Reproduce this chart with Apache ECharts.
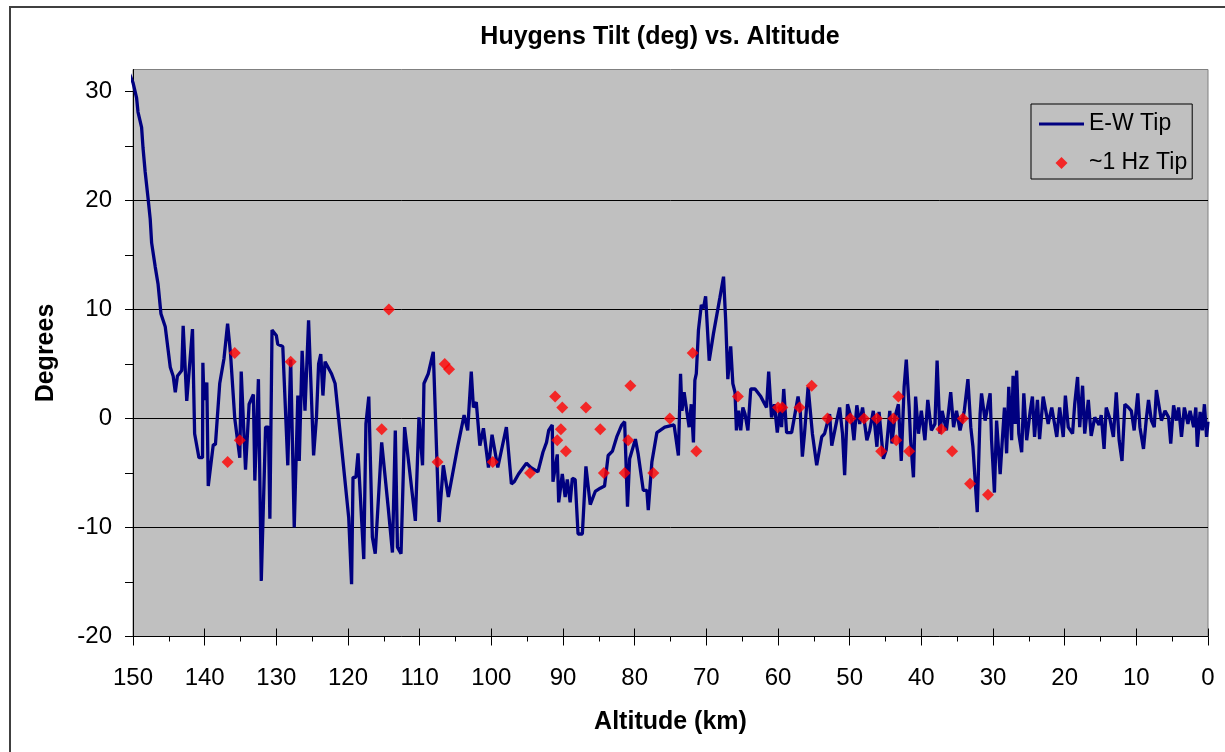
<!DOCTYPE html>
<html>
<head>
<meta charset="utf-8">
<script src="https://cdn.jsdelivr.net/npm/echarts@6/dist/echarts.min.js"></script>
<style>
html,body{margin:0;padding:0;background:#fff;}
#c{width:1225px;height:752px;}
</style>
</head>
<body>
<div id="c"></div>
<script>
// E-W Tip: altitude (km) and tilt (deg)
const ewAlt = [150.5,150.0,149.5,149.3,148.8,148.6,148.3,147.9,147.6,147.4,146.9,146.5,146.1,145.5,144.8,144.4,144.1,143.8,143.2,143.0,142.5,141.7,141.4,140.8,140.3,140.25,140.1,139.7,139.5,138.8,138.5,137.9,137.3,136.8,136.4,135.8,135.1,134.9,134.3,133.8,133.2,133.0,132.5,132.1,131.5,131.1,130.9,130.6,130.0,129.8,129.1,128.4,128.0,127.5,127.0,126.8,126.4,126.0,125.5,124.8,124.4,124.1,123.8,123.5,123.2,122.3,121.8,120.9,119.9,119.5,119.3,118.9,118.6,117.8,117.5,117.1,116.6,116.2,115.3,114.4,113.8,113.4,113.1,112.6,112.1,110.6,110.1,109.6,109.4,108.8,108.1,107.6,107.3,106.7,106.0,104.7,103.8,103.3,102.8,102.5,102.1,101.6,101.1,100.4,99.9,99.1,97.9,97.2,96.8,96.2,95.1,94.5,93.5,92.8,92.3,92.0,91.5,91.4,90.8,90.6,90.1,89.7,89.4,89.0,88.7,88.3,87.9,87.3,86.8,86.2,85.5,84.8,84.2,83.7,83.1,82.5,81.8,81.4,81.0,80.7,79.9,79.5,79.3,78.8,78.3,78.1,77.6,76.9,75.8,74.5,73.9,73.6,73.4,73.1,72.8,72.4,72.1,71.8,71.6,71.4,71.1,70.7,70.4,70.1,69.6,69.0,68.1,67.6,67.3,67.0,66.6,66.3,66.0,65.8,65.5,65.2,64.9,64.6,64.2,63.8,63.2,62.4,61.6,61.3,60.9,60.5,60.1,59.7,59.5,59.2,58.8,58.1,57.2,56.9,56.6,56.3,55.8,55.2,54.6,53.9,53.5,52.8,52.5,51.8,51.4,51.0,50.7,50.3,49.7,49.4,49.0,48.6,48.2,47.6,47.2,46.7,46.2,45.9,45.3,44.9,44.4,44.1,43.7,43.2,42.8,42.4,42.1,41.7,41.5,41.1,40.8,40.4,40.0,39.5,39.1,38.6,38.1,37.8,37.4,37.1,36.5,35.9,35.5,35.1,34.6,34.0,33.5,33.1,32.8,32.2,31.8,31.6,31.1,30.4,30.2,29.8,29.5,29.0,28.7,28.4,28.1,27.8,27.4,27.2,26.9,26.7,26.4,26.0,25.7,25.3,24.8,24.5,24.2,23.8,23.5,23.0,22.3,21.8,21.1,20.7,20.2,19.9,19.5,18.9,18.6,18.2,17.9,17.5,17.2,16.7,16.3,15.8,15.2,14.9,14.5,14.2,13.7,13.2,12.8,12.4,12.0,11.6,11.1,10.7,10.3,9.8,9.5,9.0,8.6,8.3,7.9,7.5,7.2,6.8,6.5,6.0,5.5,5.2,4.8,4.4,4.1,3.7,3.3,2.8,2.5,2.0,1.7,1.5,1.1,0.8,0.5,0.2,0.0];
const ewTilt = [31.6,30.8,29.4,28.1,26.7,24.8,22.6,20.2,18.3,16.1,13.9,12.3,9.6,8.4,4.7,3.9,2.4,3.9,4.4,8.5,1.6,8.2,-1.4,-3.6,-3.6,5.1,1.7,3.3,-6.2,-2.4,-2.4,3.2,5.5,8.7,6.0,0.0,-3.6,4.3,-4.7,1.3,2.2,-5.7,3.6,-14.9,-0.8,-0.8,-9.2,8.1,7.6,6.8,6.6,-4.3,5.4,-10.0,2.1,-3.9,6.2,0.7,9.0,-3.4,0.1,5.0,5.9,2.1,5.2,4.1,3.2,-2.6,-9.1,-15.2,-5.4,-5.4,-3.2,-12.9,-0.5,2.0,-10.9,-12.4,-2.2,-8.1,-12.3,-1.1,-11.8,-12.4,-0.8,-9.4,0.1,-4.3,3.2,4.1,6.1,-3.7,-9.5,-4.3,-7.2,-2.6,0.3,-1.1,4.3,1.0,1.5,-2.5,-0.9,-4.5,-1.5,-4.5,-0.8,-6.0,-5.8,-5.1,-4.1,-4.5,-4.9,-3.1,-2.2,-1.1,-0.6,-5.8,-3.3,-7.7,-5.1,-7.2,-5.6,-7.7,-5.5,-5.6,-10.6,-10.6,-4.4,-7.9,-6.7,-6.4,-6.2,-3.4,-3.0,-1.7,-0.6,-0.3,-8.1,-3.7,-1.9,-3.3,-3.4,-6.6,-6.6,-8.4,-4.0,-1.3,-0.8,-0.6,-3.4,4.1,0.7,2.4,1.0,-0.8,1.3,-2.2,3.5,4.1,8.1,10.4,10.1,11.2,5.3,7.8,11.1,13.0,9.0,3.6,6.6,3.2,2.4,-1.1,0.7,-1.1,1.0,0.4,-1.1,2.7,2.7,2.0,1.0,4.3,0.1,1.3,-1.3,1.0,-0.8,2.7,-1.3,-1.3,2.0,0.7,-3.5,-1.4,2.9,-1.4,-4.3,-1.7,-1.4,0.4,-2.5,-0.2,1.0,-1.4,-5.2,1.3,-0.2,-2.0,1.2,-0.5,1.0,-2.0,-1.1,0.7,-2.6,0.6,-3.7,-2.9,0.7,-2.3,0.1,1.3,-3.9,2.9,5.4,1.0,-2.0,-5.4,2.0,-1.4,0.7,-2.0,1.7,-1.1,-0.5,5.3,-1.4,0.7,-1.1,2.4,-0.8,0.7,-1.1,0.7,3.6,-0.8,-2.6,-8.6,0.4,2.3,-0.2,2.3,-2.0,-6.8,-0.2,-5.1,-2.0,1.0,-3.2,2.9,-2.0,3.9,-0.5,4.4,-1.4,-3.1,2.3,-2.0,0.7,2.0,-1.7,1.7,-1.9,2.0,-0.5,1.0,-1.7,1.0,-1.7,2.1,-0.8,-1.4,1.3,3.8,-0.8,3.0,-1.4,1.7,-1.6,0.1,-0.6,0.3,-2.8,1.0,0.0,-1.7,2.4,-2.0,-3.9,1.3,1.0,0.7,-1.1,2.3,-0.8,-2.8,0.0,1.7,-0.2,-0.8,2.6,1.0,-0.2,0.7,0.1,-2.3,1.2,-0.2,1.0,-1.7,1.0,-0.5,0.7,-0.8,1.0,-2.6,0.6,-1.1,1.3,-1.7,-0.3];

// ~1 Hz Tip samples
const hzAlt = [136.8,135.8,135.1,128.0,115.3,114.3,107.5,106.5,105.9,99.8,94.6,91.1,90.8,90.3,90.1,89.6,86.8,84.8,84.3,81.4,80.9,80.6,77.4,75.1,71.9,71.4,65.6,60.0,59.4,57.0,55.3,53.1,49.9,48.0,46.2,45.6,43.9,43.5,43.2,41.7,37.2,35.7,34.2,33.2,30.7];
const hzTilt = [-4,6,-2,5.2,-1,10,-4,5,4.5,-4,-5,2,-2,-1,1,-3,1,-1,-5,-5,-2,3,-5,0,6,-3,2,1,1,1,3,0,0,0,0,-3,0,-2,2,-3,-1,-3,0,-6,-7];

const yTicks = [-20,-10,0,10,20,30];
const yMinor = [-15,-5,5,15,25];

const ewData = ewAlt.map((a,i)=>[a, ewTilt[i]]);
const hzData = hzAlt.map((a,i)=>[a, hzTilt[i]]);

const FONT = '"Liberation Sans", Arial, sans-serif';
const GRID = {left:133, right:17, top:69.5, bottom:115.5};
const chart = echarts.init(document.getElementById('c'), null, {renderer:'canvas'});
chart.setOption({
  backgroundColor:'#ffffff',
  animation:false,
  title:{
    text:'Huygens Tilt (deg) vs. Altitude',
    left:655, top:20, textAlign:'center',
    textStyle:{fontFamily:FONT, fontWeight:'bold', fontSize:25, color:'#000'}
  },
  graphic:[{type:'rect', shape:{x:10,y:7,width:1300,height:900}, style:{fill:'none', stroke:'#404040', lineWidth:2}, silent:true}],
  legend:{
    orient:'vertical', left:1031, top:104,
    padding:[7,5,3,8], itemGap:13, itemWidth:45, itemHeight:12,
    backgroundColor:'#C0C0C0', borderColor:'#000', borderWidth:1, borderRadius:0,
    symbolKeepAspect:true,
    textStyle:{fontFamily:FONT, fontSize:23, color:'#000', lineHeight:26},
    data:[
      {name:'E-W Tip', icon:'path://M0,0L45,0L45,3L0,3Z', itemStyle:{color:'#000080', borderWidth:0}, lineStyle:{width:0}},
      {name:'~1 Hz Tip', icon:'path://M5,0L10,5L5,10L0,5Z', itemStyle:{color:'#FF0000', borderWidth:0}}
    ]
  },
  grid:[
    Object.assign({show:true, backgroundColor:'#C0C0C0', borderColor:'#808080', borderWidth:1}, GRID),
    Object.assign({show:false}, GRID)
  ],
  xAxis:[{
    gridIndex:0, type:'value', min:0, max:150, interval:10, inverse:true, position:'bottom',
    name:'Altitude (km)', nameLocation:'middle', nameGap:73,
    nameTextStyle:{fontFamily:FONT, fontWeight:'bold', fontSize:25, color:'#000'},
    axisLine:{show:true, onZero:false, lineStyle:{color:'#000', width:1}},
    axisTick:{show:true, inside:false, length:9, lineStyle:{color:'#000'}},
    minorTick:{show:true, splitNumber:2, length:5, lineStyle:{color:'#000'}},
    axisLabel:{margin:30, fontFamily:FONT, fontSize:24, color:'#000'},
    splitLine:{show:false}
  },{
    gridIndex:1, type:'value', min:0, max:150, interval:10, inverse:true, position:'bottom',
    axisLine:{show:false, onZero:false}, axisTick:{show:true, inside:true, length:8, lineStyle:{color:'#000'}},
    axisLabel:{show:false}, splitLine:{show:false}
  }],
  yAxis:[{
    gridIndex:0, type:'value', min:-20, max:32, interval:10, position:'left',
    name:'Degrees', nameLocation:'middle', nameGap:74, nameRotate:90,
    nameTextStyle:{fontFamily:FONT, fontWeight:'bold', fontSize:25, color:'#000'},
    axisLine:{show:true, onZero:false, lineStyle:{color:'#000', width:1}},
    axisTick:{show:true, length:8, customValues:yTicks, lineStyle:{color:'#000'}},
    axisLabel:{margin:21, fontFamily:FONT, fontSize:24, color:'#000', customValues:yTicks},
    splitLine:{show:true, showMaxLine:false, showMinLine:false, lineStyle:{color:'#000', width:1}}
  },{
    gridIndex:1, type:'value', min:-20, max:32, interval:5, position:'left',
    axisLine:{show:false, onZero:false},
    axisTick:{show:true, length:8, customValues:yMinor, lineStyle:{color:'#000'}},
    axisLabel:{show:false}, splitLine:{show:false}
  }],
  series:[{
    name:'E-W Tip', type:'line', data:ewData, symbol:'none', clip:false,
    xAxisIndex:0, yAxisIndex:0,
    lineStyle:{color:'#000080', width:3.3}, itemStyle:{color:'#000080'}, z:3
  },{
    name:'~1 Hz Tip', type:'scatter', data:hzData, symbol:'diamond', symbolSize:12,
    xAxisIndex:0, yAxisIndex:0,
    itemStyle:{color:'#FF0000'}, z:4
  }]
});
</script>
</body>
</html>
